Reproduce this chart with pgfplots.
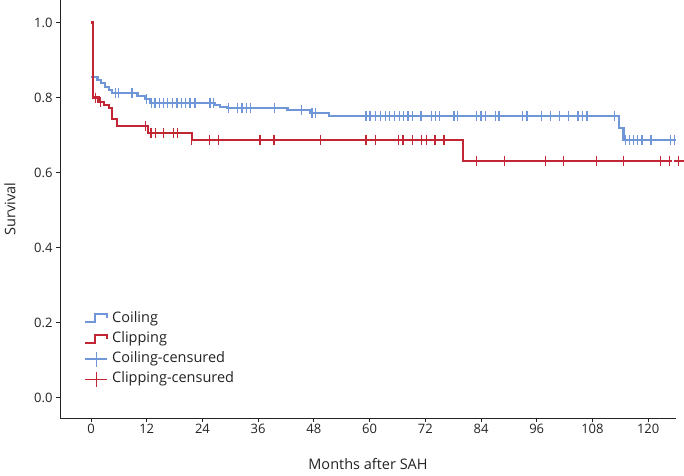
\documentclass[border=0pt]{standalone}
\usepackage{pgfplots}
\pgfplotsset{compat=1.18}
\usepackage{fontspec}
\setmainfont{Open Sans}
\definecolor{coilc}{RGB}{111,150,214}
\definecolor{clipc}{RGB}{194,38,52}
\definecolor{axgray}{RGB}{35,35,35}
\pgfplotsset{
  coilstep/.style={legend image code/.code={\draw[coilc, line width=2pt] (0pt,-4pt) -- (10pt,-4pt) -- (10pt,4pt) -- (22pt,4pt) -- (22pt,0pt);}},
  clipstep/.style={legend image code/.code={\draw[clipc, line width=2pt] (0pt,-4pt) -- (10pt,-4pt) -- (10pt,4pt) -- (22pt,4pt) -- (22pt,0pt);}},
  coilcens/.style={legend image code/.code={\draw[coilc, line width=1.3pt] (0pt,0pt) -- (22pt,0pt); \draw[coilc, line width=1.3pt] (11pt,-7.5pt) -- (11pt,7.5pt);}},
  clipcens/.style={legend image code/.code={\draw[clipc, line width=1.3pt] (0pt,0pt) -- (22pt,0pt); \draw[clipc, line width=1.3pt] (11pt,-7.5pt) -- (11pt,7.5pt);}},
}
\begin{document}
\begin{tikzpicture}
\begin{axis}[
  at={(0,0)}, anchor=south west,
  scale only axis, width=616pt, height=418pt,
  xmin=-6.68, xmax=126, ymin=-0.0547, ymax=1.06,
  axis x line=bottom, axis y line=left,
  axis line style={-, axgray, line width=0.9pt},
  tick style={axgray, line width=0.9pt},
  tick align=outside, major tick length=4pt,
  xtick={0,12,...,120}, ytick={0,0.2,0.4,0.6,0.8,1.0},
  yticklabel style={/pgf/number format/.cd, fixed, fixed zerofill, precision=1},
  /pgf/number format/assume math mode=true,
  ticklabel style={font=\fontsize{13}{15}\selectfont, text=axgray},
  xticklabel style={yshift=1pt},
  xlabel={Months after SAH}, ylabel={Survival},
  label style={font=\fontsize{14.5}{17}\selectfont, text=axgray},
  xlabel style={at={(axis description cs:0.5,0)}, anchor=center, yshift=-46.5pt},
  ylabel style={at={(axis description cs:0,0.5)}, anchor=center, yshift=50pt},
  clip=false,
  legend cell align=left,
  legend style={draw=none, fill=none, at={(rel axis cs:0.039,0.072)}, anchor=south west,
    font=\fontsize{14.5}{17}\selectfont, text=axgray, row sep=3.5pt, column sep=3pt, inner sep=0pt,
    nodes={inner sep=1pt, text height=11pt, text depth=3.8pt}},
]
% Kaplan-Meier curves
\addplot[const plot, coilc, line width=2.2pt, forget plot] coordinates {
(0,0.855) (1.4,0.847) (2.1,0.838) (3.0,0.829) (3.8,0.820) (4.6,0.812)
(10.0,0.805) (11.6,0.795) (12.8,0.786) (26.7,0.779) (27.8,0.775) (29.4,0.772)
(42.3,0.766) (47.2,0.758) (51.2,0.751) (113.8,0.718) (114.7,0.687) (125.9,0.687)};
\addplot[const plot, clipc, line width=2.2pt, forget plot] coordinates {
(0,1.0) (0.5,0.800) (1.6,0.789) (2.8,0.780) (3.8,0.771) (4.6,0.742) (5.6,0.724)
(12.2,0.706) (21.7,0.687) (80.1,0.631) (125.2,0.631)};
% censored marks
\addplot[only marks, mark=|, mark size=5pt, coilc, mark options={line width=1.3pt}, forget plot] coordinates {
(5.2,0.812) (5.9,0.812) (8.8,0.812) (11.9,0.795)
(13.1,0.786) (13.8,0.786) (14.7,0.786) (15.6,0.786) (16.5,0.786) (17.5,0.786) (18.5,0.786)
(19.5,0.786) (20.4,0.786) (21.3,0.786) (22.4,0.786) (25.6,0.786) (26.4,0.786)
(29.6,0.772) (31.5,0.772) (32.5,0.772) (33.5,0.772) (34.4,0.772) (39.5,0.772)
(45.4,0.766) (47.6,0.758) (48.3,0.758)
(59.2,0.751) (60.1,0.751) (61.2,0.751) (62.3,0.751) (63.4,0.751) (64.3,0.751) (65.4,0.751)
(66.4,0.751) (67.3,0.751) (68.3,0.751) (69.2,0.751) (71.1,0.751) (73.3,0.751) (74.2,0.751)
(75.1,0.751) (78.2,0.751) (79.0,0.751) (83.1,0.751) (84.0,0.751) (84.9,0.751) (87.1,0.751)
(87.9,0.751) (93.0,0.751) (93.9,0.751) (97.0,0.751) (98.9,0.751) (100.9,0.751) (102.9,0.751)
(104.9,0.751) (105.9,0.751) (106.8,0.751) (112.7,0.751)
(115.1,0.687) (116.0,0.687) (116.9,0.687) (117.7,0.687) (118.7,0.687) (120.6,0.687)
(124.8,0.687) (125.6,0.687)};
\addplot[only marks, mark=|, mark size=5pt, clipc, mark options={line width=1.3pt}, forget plot] coordinates {
(1.0,0.800) (2.1,0.789) (11.8,0.724)
(12.9,0.706) (13.9,0.706) (15.6,0.706) (17.7,0.706) (18.7,0.706)
(21.7,0.687) (25.5,0.687) (27.4,0.687) (36.4,0.687) (39.4,0.687) (49.4,0.687) (59.2,0.687)
(61.2,0.687) (66.2,0.687) (67.2,0.687) (69.2,0.687) (71.2,0.687) (72.2,0.687) (74.1,0.687)
(76.0,0.687)
(83.1,0.631) (89.0,0.631) (97.9,0.631) (101.8,0.631) (108.8,0.631) (114.7,0.631)
(122.6,0.631) (124.6,0.631)};
\addplot[only marks, mark=+, mark size=5pt, clipc, mark options={line width=1.3pt}, forget plot] coordinates {(126.6,0.631)};
% legend
\addlegendimage{coilstep}
\addlegendentry{Coiling}
\addlegendimage{clipstep}
\addlegendentry{Clipping}
\addlegendimage{coilcens}
\addlegendentry{Coiling-censured}
\addlegendimage{clipcens}
\addlegendentry{Clipping-censured}
\end{axis}
\pgfresetboundingbox
\path[use as bounding box] (-60pt,-57pt) rectangle (624pt,418pt);
\end{tikzpicture}
\end{document}
